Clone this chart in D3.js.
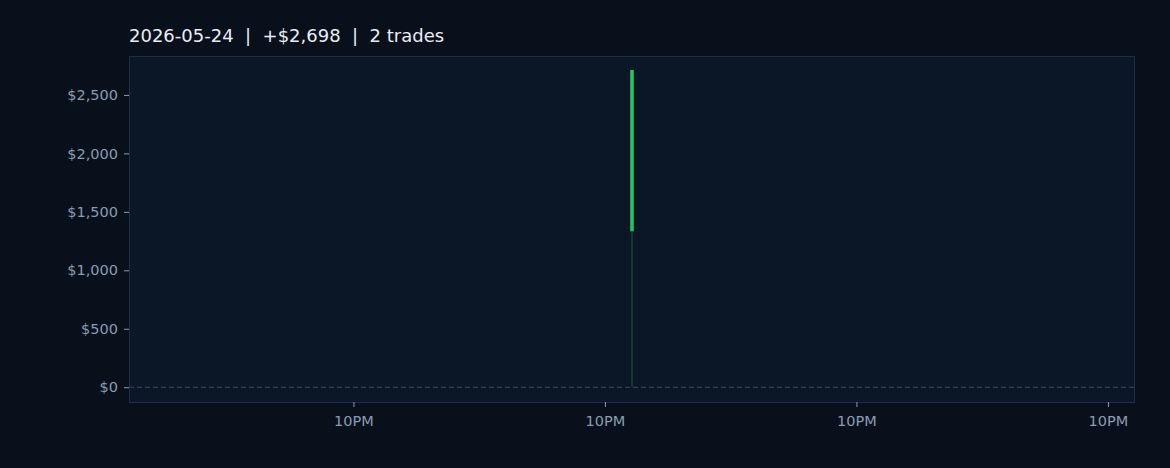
<!DOCTYPE html>
<html><head><meta charset="utf-8">
<script src="https://cdn.jsdelivr.net/npm/d3@7"></script>
<style>
html,body{margin:0;padding:0;background:#08101b;}
svg{display:block;font-family:"DejaVu Sans",sans-serif;}
</style></head>
<body>
<svg id="c" width="1170" height="468"></svg>
<script>
// Data
const titleDate = "2026-05-24";
const tradeTimes = [new Date(2026,4,24,0,35), new Date(2026,4,24,0,35)];
const tradePnl = [1349, 1349];
const yTicks = [0, 500, 1000, 1500, 2000, 2500];
const xTicks = [new Date(2026,4,22,22,0), new Date(2026,4,23,22,0), new Date(2026,4,24,22,0), new Date(2026,4,25,22,0)];

const cum = [];
tradePnl.reduce((a,v,i)=>{const s=a+v; cum.push({t:tradeTimes[i], v:s}); return s;},0);
const total = d3.sum(tradePnl);

const svg = d3.select("#c");
const L=129, R=1135, T=56, B=403;
const day = 864e5;
const tMid = tradeTimes[0];
const x = d3.scaleTime().domain([new Date(+tMid-2*day), new Date(+tMid+2*day)]).range([L,R]);
const maxV = d3.max(cum,d=>d.v);
const y = d3.scaleLinear().domain([-0.05*maxV, 1.05*maxV]).range([B,T]);

svg.append("rect").attr("x",L).attr("y",T).attr("width",R-L).attr("height",B-T).attr("fill","#0b1726");

// zero line
svg.append("line").attr("x1",L).attr("x2",R).attr("y1",y(0)).attr("y2",y(0))
  .attr("stroke","#3b4a5c").attr("stroke-width",1).attr("stroke-dasharray","5,3");

// fill area (degenerate)
const area = d3.area().x(d=>x(d.t)).y0(y(0)).y1(d=>y(d.v));
svg.append("path").datum(cum).attr("d",area).attr("fill","#1f9d55").attr("fill-opacity",0.15)
  .attr("stroke","#143a34").attr("stroke-width",1.4);
// base segment from zero
svg.append("line").attr("x1",x(cum[0].t)).attr("x2",x(cum[0].t)).attr("y1",y(0)).attr("y2",y(cum[0].v))
  .attr("stroke","#143a34").attr("stroke-width",1.4);

const line = d3.line().x(d=>x(d.t)).y(d=>y(d.v));
svg.append("path").datum(cum).attr("d",line).attr("fill","none")
  .attr("stroke","#22c463").attr("stroke-width",3.6).attr("stroke-linecap","square");

// frame
svg.append("rect").attr("x",L+0.5).attr("y",T+0.5).attr("width",R-L-1).attr("height",B-T-1)
  .attr("fill","none").attr("stroke","#1e2e45").attr("stroke-width",1);

// axes
const fmtY = v => "$" + d3.format(",")(v);
const yAx = svg.append("g").attr("transform",`translate(${L},0)`)
  .call(d3.axisLeft(y).tickValues(yTicks).tickFormat(fmtY).tickSize(5).tickPadding(6));
const xAx = svg.append("g").attr("transform",`translate(0,${B-1})`)
  .call(d3.axisBottom(x).tickValues(xTicks).tickFormat(d3.timeFormat("%-I%p")).tickSize(5).tickPadding(9));
[yAx,xAx].forEach(g=>{
  g.attr("font-size",null).attr("font-family",null);
  g.select(".domain").remove();
  g.selectAll(".tick line").attr("stroke","#8b9bb2").attr("stroke-width",1);
  g.selectAll(".tick text").attr("fill","#8b9bb2").attr("font-size","14.5px").attr("font-family","DejaVu Sans");
});

svg.append("text").attr("x",L).attr("y",42).attr("fill","#e8edf3")
  .attr("font-size","18px").attr("font-family","DejaVu Sans")
  .attr("xml:space","preserve")
  .text(`${titleDate}  |  +$${d3.format(",")(total)}  |  ${tradePnl.length} trades`);
</script>
</body></html>
